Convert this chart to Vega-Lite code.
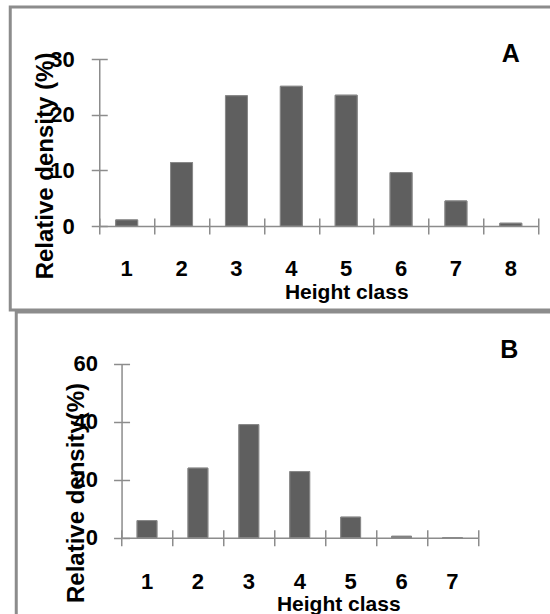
{
  "$schema": "https://vega.github.io/schema/vega-lite/v6.json",
  "padding": {"left": 8, "top": 5, "right": 0, "bottom": 0},
  "background": "white",
  "datasets": {
    "a": [
      {"class": 1, "density": 1.1},
      {"class": 2, "density": 11.4},
      {"class": 3, "density": 23.4},
      {"class": 4, "density": 25.1},
      {"class": 5, "density": 23.5},
      {"class": 6, "density": 9.6},
      {"class": 7, "density": 4.5},
      {"class": 8, "density": 0.5}
    ],
    "b": [
      {"class": 1, "density": 5.9},
      {"class": 2, "density": 24.0},
      {"class": 3, "density": 39.0},
      {"class": 4, "density": 22.8},
      {"class": 5, "density": 7.1},
      {"class": 6, "density": 0.5},
      {"class": 7, "density": 0}
    ]
  },
  "config": {
    "view": {"stroke": "#8c8c8c", "strokeWidth": 3},
    "font": "Liberation Sans",
    "axis": {
      "domainColor": "#8c8c8c",
      "tickColor": "#8c8c8c",
      "domainWidth": 1.5,
      "tickWidth": 1.5,
      "grid": false,
      "labelFont": "Liberation Sans",
      "labelFontSize": 22,
      "labelFontWeight": "bold",
      "labelColor": "black",
      "titleFont": "Liberation Sans",
      "titleFontWeight": "bold",
      "titleColor": "black"
    }
  },
  "spacing": -3,
  "center": true,
  "vconcat": [
    {
      "width": 560,
      "height": 303,
      "title": {"text": "A", "anchor": "start", "frame": "group", "align": "center", "baseline": "alphabetic", "offset": 0, "dx": 500.5, "dy": 80, "fontSize": 25, "fontWeight": "bold", "color": "black", "font": "Liberation Sans"},
      "data": {"name": "a"},
      "resolve": {"axis": {"x": "independent", "y": "independent"}},
      "layer": [
        {
          "mark": {"type": "bar", "width": {"band": 0.4}, "fill": "#5f5f5f", "stroke": "#8a8a8a", "strokeWidth": 1},
          "encoding": {
            "x": {"field": "class", "type": "ordinal",
              "scale": {"range": [89, 528], "paddingInner": 0, "paddingOuter": 0},
              "axis": {"orient": "bottom", "offset": -84, "ticks": false, "tickSize": 0, "labelAngle": 0, "labelPadding": 32,
                "title": "Height class", "titleFontSize": 21, "titleX": 336, "titleY": 72, "titleBaseline": "alphabetic", "titleAlign": "center"}},
            "y": {"field": "density", "type": "quantitative",
              "scale": {"domain": [0, 30], "range": [219, 52], "nice": false},
              "axis": {"orient": "left", "offset": -89, "values": [0, 10, 20, 30], "ticks": false, "tickSize": 0, "labelPadding": 25,
                "title": "Relative density (%)", "titleFontSize": 24, "titleX": -47, "titleY": 158.5, "titleBaseline": "alphabetic", "titleAlign": "center", "titleAngle": -90}}
          }
        },
        {
          "mark": {"type": "bar", "width": {"band": 0.4}, "fill": "#5f5f5f", "stroke": "#8a8a8a", "strokeWidth": 1},
          "encoding": {
            "x": {"field": "class", "type": "ordinal",
              "axis": {"orient": "bottom", "offset": -92, "domain": false, "labels": false, "ticks": true, "tickSize": 16, "tickBand": "extent", "title": null}},
            "y": {"field": "density", "type": "quantitative",
              "axis": {"orient": "left", "offset": -97, "domain": false, "labels": false, "ticks": true, "tickSize": 16, "values": [0, 10, 20, 30], "title": null}}
          }
        }
      ]
    },
    {
      "width": 548,
      "height": 320,
      "title": {"text": "B", "anchor": "start", "frame": "group", "align": "center", "baseline": "alphabetic", "offset": 0, "dx": 493, "dy": 71, "fontSize": 25, "fontWeight": "bold", "color": "black", "font": "Liberation Sans"},
      "data": {"name": "b"},
      "resolve": {"axis": {"x": "independent", "y": "independent"}},
      "layer": [
        {
          "mark": {"type": "bar", "width": {"band": 0.39}, "fill": "#5f5f5f", "stroke": "#8a8a8a", "strokeWidth": 1},
          "encoding": {
            "x": {"field": "class", "type": "ordinal",
              "scale": {"range": [105.3, 461.7], "paddingInner": 0, "paddingOuter": 0},
              "axis": {"orient": "bottom", "offset": -94.3, "ticks": false, "tickSize": 0, "labelAngle": 0, "labelPadding": 34,
                "title": "Height class", "titleFontSize": 21, "titleX": 322, "titleY": 72.3, "titleBaseline": "alphabetic", "titleAlign": "center"}},
            "y": {"field": "density", "type": "quantitative",
              "scale": {"domain": [0, 60], "range": [225.7, 51.7], "nice": false},
              "axis": {"orient": "left", "offset": -105.3, "values": [0, 20, 40, 60], "ticks": false, "tickSize": 0, "labelPadding": 24,
                "title": "Relative density(%)", "titleFontSize": 24, "titleX": -37.6, "titleY": 180.5, "titleBaseline": "alphabetic", "titleAlign": "center", "titleAngle": -90}}
          }
        },
        {
          "mark": {"type": "bar", "width": {"band": 0.39}, "fill": "#5f5f5f", "stroke": "#8a8a8a", "strokeWidth": 1},
          "encoding": {
            "x": {"field": "class", "type": "ordinal",
              "axis": {"orient": "bottom", "offset": -102.3, "domain": false, "labels": false, "ticks": true, "tickSize": 16, "tickBand": "extent", "title": null}},
            "y": {"field": "density", "type": "quantitative",
              "axis": {"orient": "left", "offset": -113.3, "domain": false, "labels": false, "ticks": true, "tickSize": 16, "values": [0, 20, 40, 60], "title": null}}
          }
        }
      ]
    }
  ]
}
